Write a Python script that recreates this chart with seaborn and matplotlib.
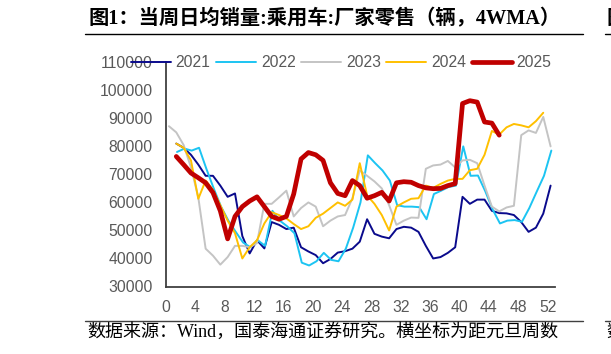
import numpy as np
import pandas as pd
import matplotlib
matplotlib.use("Agg")
import matplotlib.pyplot as plt
import seaborn as sns

# ---------------- data ----------------
years = ["2021", "2022", "2023", "2024", "2025"]
start_weeks = [1.4, 1.5, 0.4, 1.4, 1.4]   # first week of each series (weeks from New Year)

v2021 = [81000, 79500, 77000, 73500, 69500, 69500, 66000, 62000, 63200, 48000,
         41800, 46500, 43600, 53000, 52000, 50500, 51000, 44000, 42500, 41200,
         38300, 39800, 42100, 42600, 43500, 46000, 54000, 48800, 47800, 47200,
         50500, 51300, 51000, 49500, 44500, 40000, 40500, 42000, 44000, 62000,
         59500, 61000, 61000, 57000, 56200, 56100, 55500, 53000, 49500, 51000,
         56000, 66000]
v2022 = [78000, 79200, 78500, 79500, 72000, 65000, 58500, 53500, 49500, 45700,
         44000, 46500, 44500, 57000, 53500, 51500, 49000, 38500, 37500, 39000,
         42000, 39500, 39000, 43500, 51000, 60000, 76800, 74000, 71400, 67800,
         59000, 58500, 58500, 58300, 54000, 63000, 64200, 65500, 66000, 80000,
         69500, 69600, 64000, 57500, 52500, 53500, 53700, 53100, 58000, 63800,
         69500, 78500]
v2023 = [87200, 85000, 80500, 72500, 61800, 43500, 41000, 37800, 40500, 44500,
         44500, 44000, 45500, 59500, 59500, 61800, 64200, 55000, 58000, 60000,
         58500, 51500, 53500, 55000, 55500, 61500, 71400, 69500, 67500, 65000,
         59000, 52000, 53500, 54600, 54500, 72000, 73200, 73500, 74800, 72500,
         75000, 75200, 74000, 66000, 58500, 56800, 58200, 58800, 84000, 85700,
         84800, 90500, 80000]
v2024 = [81000, 79500, 75000, 61300, 67800, 64500, 59000, 53500, 49000, 40000,
         44000, 46500, 52500, 56500, 55500, 54300, 52300, 50500, 51500, 54500,
         56000, 58000, 60000, 58800, 61000, 74000, 62500, 59500, 55500, 50000,
         58500, 60000, 61300, 61500, 66000, 65200, 66600, 67800, 68400, 68400,
         71500, 72000, 77000, 85500, 84200, 86800, 88000, 87500, 86800, 89000,
         92000]
v2025 = [76400, 73500, 70500, 68800, 67000, 63500, 57000, 47000, 55000, 58500,
         60500, 62000, 58500, 55000, 54000, 55000, 63000, 75500, 77800, 77000,
         75000, 67000, 63200, 62400, 67800, 66000, 61500, 62400, 63600, 60500,
         67000, 67400, 67200, 66000, 65200, 64900, 65000, 66000, 66700, 95300,
         96300, 95800, 88700, 88300, 84000]

x_ticks = list(range(0, 53, 4))
y_ticks = list(range(30000, 110001, 10000))

title = "图1：当周日均销量:乘用车:厂家零售（辆，4WMA）"
source = "数据来源：Wind，国泰海通证券研究。横坐标为距元旦周数"

# ---------------- style ----------------
series_values = [v2021, v2022, v2023, v2024, v2025]
colors = ["#0A0A8C", "#1CC4F2", "#C4C4C4", "#FFC000", "#C00000"]
widths = [1.4, 1.4, 1.4, 1.4, 3.4]

frames = []
for yr, st, vals in zip(years, start_weeks, series_values):
    frames.append(pd.DataFrame({"week": st + np.arange(len(vals)),
                                "value": vals, "year": yr}))
df = pd.concat(frames, ignore_index=True)

sns.set_theme(style="white")
plt.rcParams["font.family"] = ["Liberation Sans", "Noto Sans CJK SC", "DejaVu Sans"]

W, H = 611, 354
fig = plt.figure(figsize=(W / 100, H / 100), dpi=100)
fig.patch.set_facecolor("white")

left, right, bottom, top = 166, 555, 286.5, 62.3
ax = fig.add_axes([left / W, 1 - bottom / H, (right - left) / W, (bottom - top) / H])

for yr, c, lw in zip(years, colors, widths):
    sns.lineplot(data=df[df["year"] == yr], x="week", y="value", color=c,
                 linewidth=lw, ax=ax, label=yr, solid_joinstyle="round",
                 solid_capstyle="round")

ax.set_xlim(0, 53)
ax.set_ylim(30000, 110000)
ax.set_xticks(x_ticks)
ax.set_yticks(y_ticks)
ax.set_xlabel("")
ax.set_ylabel("")
for s in ["top", "right"]:
    ax.spines[s].set_visible(False)
for s in ["left", "bottom"]:
    ax.spines[s].set_color("#404040")
    ax.spines[s].set_linewidth(1.3)
ax.tick_params(axis="both", which="both", direction="out", length=3.5, width=1.2,
               color="#404040", labelsize=11.3, labelcolor="#595959")
ax.tick_params(axis="y", pad=6)
ax.tick_params(axis="x", pad=6)
ax.grid(False)

ax.get_legend().remove()
handles, labels = ax.get_legend_handles_labels()
fig.legend(handles, labels, loc="center left", bbox_to_anchor=(131 / W, 1 - 62.5 / H),
           ncol=5, frameon=False, fontsize=11.3, handlelength=2.55,
           handletextpad=0.3, columnspacing=0.35, borderpad=0, borderaxespad=0,
           labelcolor="#595959")

# title and footer
tfam = ["Liberation Serif", "Noto Sans CJK SC"]
fig.text(88 / W, 1 - 19.5 / H, title, fontsize=14.6, fontweight="bold", color="black",
         family=tfam, va="center", ha="left")
fig.add_artist(plt.Line2D([85 / W, 583 / W], [1 - 33.5 / H, 1 - 33.5 / H],
                          color="black", linewidth=1.0))
fig.add_artist(plt.Line2D([605 / W, 1.0], [1 - 33.5 / H, 1 - 33.5 / H],
                          color="black", linewidth=1.0))
fig.text(606 / W, 1 - 19.5 / H, "图", fontsize=14.6, fontweight="bold", color="black",
         family=tfam, va="center", ha="left")

fig.add_artist(plt.Line2D([85 / W, 583 / W], [1 - 321 / H, 1 - 321 / H],
                          color="#404040", linewidth=1.0))
fig.add_artist(plt.Line2D([605 / W, 1.0], [1 - 321 / H, 1 - 321 / H],
                          color="#404040", linewidth=1.0))
fig.text(87 / W, 1 - 332 / H, source, fontsize=13, color="black",
         family=tfam, va="center", ha="left")
fig.text(606 / W, 1 - 332 / H, "数", fontsize=13, color="black",
         family=tfam, va="center", ha="left")

fig.savefig("out.png", dpi=100, facecolor="white")
